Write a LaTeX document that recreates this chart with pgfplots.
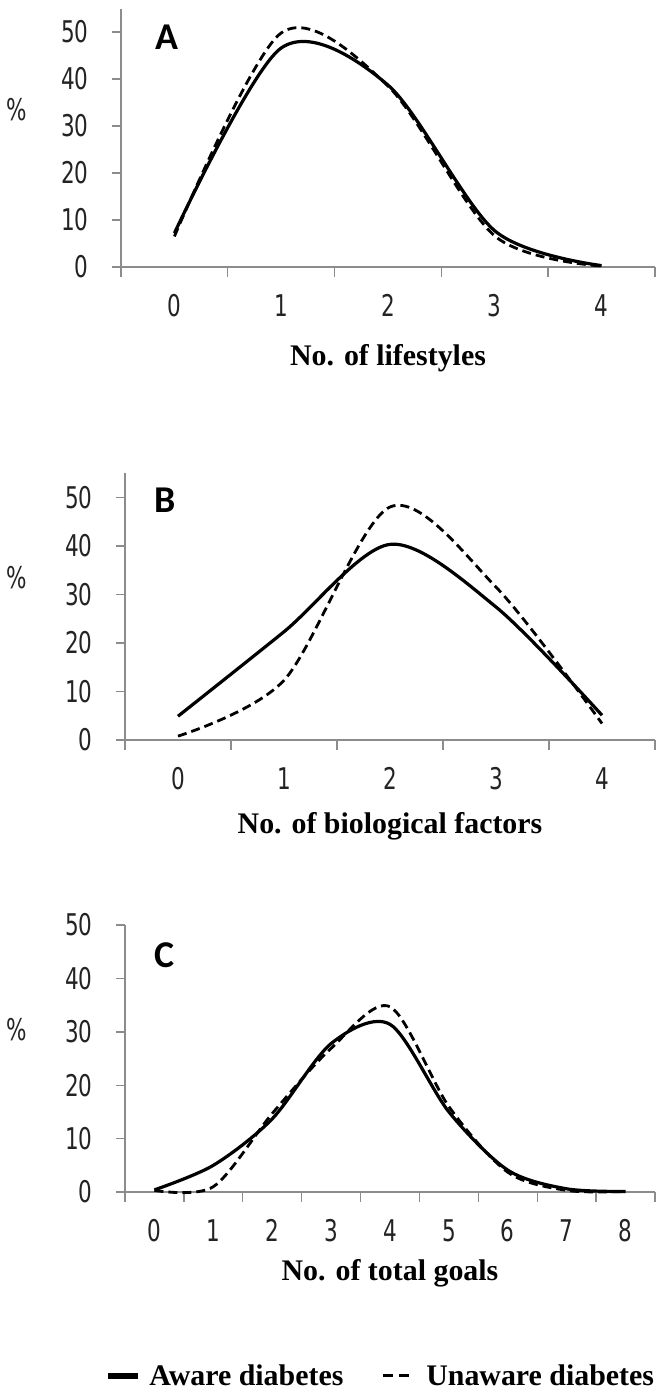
\documentclass[border=0pt]{standalone}
\usepackage{pgfplots}
\pgfplotsset{compat=1.18}
\usepackage{pgfplotstable}
\usepackage{fontspec}
\setmainfont{Liberation Serif}
\newfontfamily\tickfont[FakeStretch=0.72]{DejaVu Sans}
\newfontfamily\letterfont{Carlito}
\definecolor{axgray}{RGB}{140,140,140}
\definecolor{txtgray}{RGB}{35,35,35}

% Panel A: lifestyles
\pgfplotstableread{
x aware unaware
0 7.2 6.5
1 46.6 49.8
2 38.7 38.5
3 7.7 6.6
4 0.3 0.2
}\tabA
% Panel B: biological factors
\pgfplotstableread{
x aware unaware
0 4.9 0.8
1 22.3 12.3
2 40.3 48.0
3 27.4 31.5
4 5.1 3.4
}\tabB
% Panel C: total goals
\pgfplotstableread{
x aware unaware
0 0.4 0.3
1 5.0 1.0
2 13.7 14.7
3 27.8 26.9
4 31.4 34.7
5 15.0 16.0
6 4.1 3.7
7 0.6 0.3
8 0.1 0.1
}\tabC

\pgfplotsset{
  panel/.style={
    scale only axis,
    axis lines*=left,
    axis line style={axgray, line width=1.4bp},
    clip=false,
    xmin=-0.5, ymin=0,
    ytick={0,10,...,50},
    tick align=outside,
    major tick length=9bp,
    minor tick length=10bp,
    every tick/.style={axgray, line width=1.4bp},
    major x tick style={draw=none},
    /pgf/number format/assume math mode=true,
    ticklabel style={font=\tickfont\fontsize{30}{30}\selectfont, text=txtgray},
    xticklabel style={yshift=-15bp},
    yticklabel style={xshift=-20bp},
    xlabel style={font=\bfseries\fontsize{30}{30}\selectfont, anchor=center},
    ylabel style={font=\tickfont\fontsize{30}{30}\selectfont, text=txtgray, rotate=-90, anchor=center},
  },
  aw/.style={black, line width=3.2bp, smooth, tension=0.5, no marks},
  un/.style={black, line width=2.8bp, dash pattern=on 9bp off 5bp, smooth, tension=0.5, no marks},
}

\begin{document}
\begin{tikzpicture}
\useasboundingbox (0,0) rectangle (664bp,-1392bp);

% ---------------- A ----------------
\begin{axis}[panel,
  at={(121bp,-267bp)}, anchor=south west,
  width=534bp, height=258.5bp,
  xmax=4.5, ymax=55,
  xtick={0,...,4}, minor xtick={-0.5,0.5,...,4.5},
  xlabel={No. of lifestyles},
  xlabel style={at={(axis description cs:0.5,-0.352)}},
  ylabel={\%},
  ylabel style={at={(axis description cs:-0.195,0.607)}},
]
\addplot[aw] table[x=x,y=aware] {\tabA};
\addplot[un] table[x=x,y=unaware] {\tabA};
\node[font=\letterfont\bfseries\fontsize{38}{38}\selectfont] at (axis description cs:0.086,0.89) {A};
\end{axis}

% ---------------- B ----------------
\begin{axis}[panel,
  at={(125bp,-740bp)}, anchor=south west,
  width=530bp, height=267bp,
  xmax=4.5, ymax=55,
  xtick={0,...,4}, minor xtick={-0.5,0.5,...,4.5},
  xlabel={No. of biological factors},
  xlabel style={at={(axis description cs:0.5,-0.322)}},
  ylabel={\%},
  ylabel style={at={(axis description cs:-0.204,0.607)}},
]
\addplot[aw] table[x=x,y=aware] {\tabB};
\addplot[un] table[x=x,y=unaware] {\tabB};
\node[font=\letterfont\bfseries\fontsize{38}{38}\selectfont] at (axis description cs:0.075,0.899) {B};
\end{axis}

% ---------------- C ----------------
\begin{axis}[panel,
  at={(125bp,-1192bp)}, anchor=south west,
  width=530bp, height=267bp,
  xmax=8.5, ymax=50,
  xtick={0,...,8}, minor xtick={-0.5,0.5,...,8.5},
  xlabel={No. of total goals},
  xlabel style={at={(axis description cs:0.5,-0.303)}},
  ylabel={\%},
  ylabel style={at={(axis description cs:-0.204,0.607)}},
  legend columns=2,
  legend style={draw=none, fill=none, at={(axis description cs:0.482,-0.689)}, anchor=center,
    font=\bfseries\fontsize{30}{30}\selectfont, inner sep=0pt,
    /tikz/every even column/.append style={column sep=36bp}},
]
\addplot[aw, legend image code/.code={\draw[black, line width=6bp] (0bp,0bp) -- (30bp,0bp); \path (38bp,0bp);}] table[x=x,y=aware] {\tabC};
\addlegendentry{Aware diabetes}
\addplot[un, legend image code/.code={\draw[black, line width=3bp, dash pattern=on 10bp off 6bp] (0bp,0bp) -- (26bp,0bp); \path (40bp,0bp);}] table[x=x,y=unaware] {\tabC};
\addlegendentry{Unaware diabetes}
\node[font=\letterfont\bfseries\fontsize{38}{38}\selectfont] at (axis description cs:0.075,0.888) {C};
\end{axis}
\end{tikzpicture}
\end{document}
